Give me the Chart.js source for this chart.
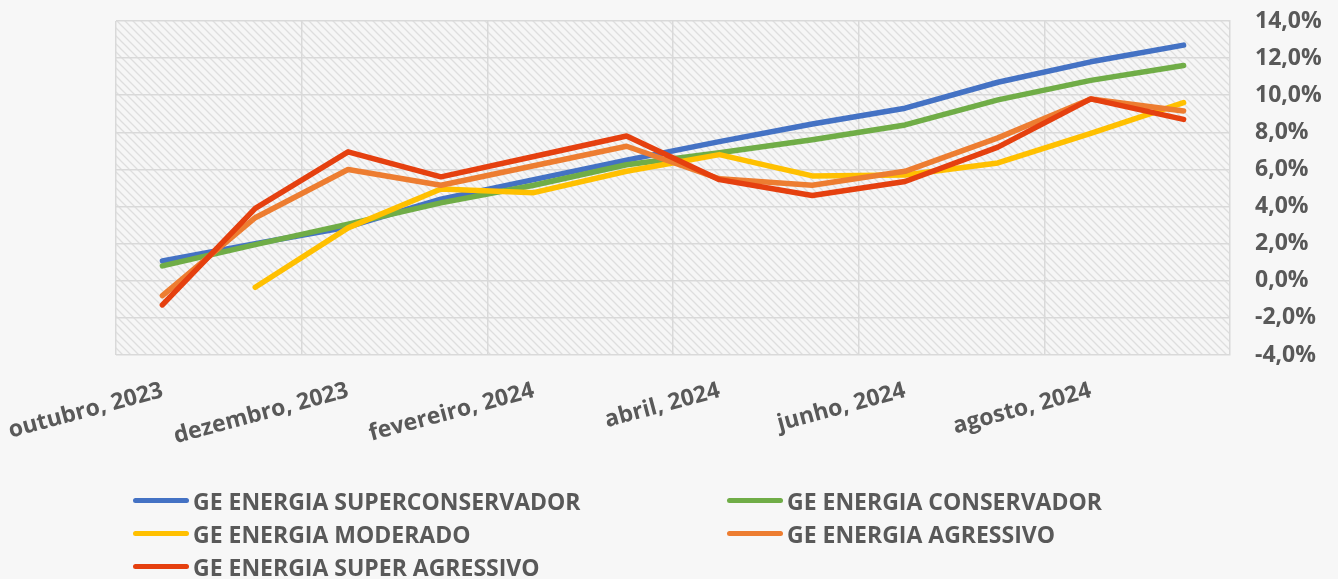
<!DOCTYPE html>
<html>
<head>
<meta charset="utf-8">
<script src="https://cdn.jsdelivr.net/npm/chart.js@4.4.1/dist/chart.umd.min.js"></script>
<style>
  html, body { margin: 0; padding: 0; background: #F7F7F7; }
  #wrap { position: relative; width: 1338px; height: 579px; overflow: hidden; }
  #c { position: absolute; left: 0; top: 0; }
  #legend { position: absolute; left: 133px; top: 484px; display: grid; grid-template-columns: 594px 560px; grid-auto-rows: 33px; }
  .li { display: flex; align-items: center; font-family: "Open Sans", sans-serif; font-weight: bold; font-size: 23px; color: #595959; white-space: nowrap; }
  .sw { width: 56px; height: 5px; border-radius: 3px; margin-right: 4px; }
</style>
</head>
<body>
<div id="wrap">
  <canvas id="c" width="1338" height="579"></canvas>
  <div id="legend"></div>
</div>
<script>
const categories = ['outubro, 2023','novembro, 2023','dezembro, 2023','janeiro, 2024','fevereiro, 2024','março, 2024','abril, 2024','maio, 2024','junho, 2024','julho, 2024','agosto, 2024','setembro, 2024'];
const superConservador = [1.07, 2.0, 2.9, 4.4, 5.45, 6.5, 7.5, 8.45, 9.3, 10.7, 11.8, 12.7];
const conservador      = [0.8, 1.95, 3.05, 4.2, 5.15, 6.25, 6.9, 7.6, 8.4, 9.75, 10.8, 11.6];
const moderado         = [null, -0.35, 2.85, 4.95, 4.75, 5.9, 6.8, 5.65, 5.7, 6.35, 7.95, 9.6];
const agressivo        = [-0.8, 3.4, 6.0, 5.15, 6.2, 7.25, 5.5, 5.15, 5.9, 7.7, 9.8, 9.15];
const superAgressivo   = [-1.3, 3.9, 6.95, 5.6, 6.7, 7.8, 5.45, 4.6, 5.35, 7.2, 9.8, 8.7];
const seriesNames = ['GE ENERGIA SUPERCONSERVADOR','GE ENERGIA CONSERVADOR','GE ENERGIA MODERADO','GE ENERGIA AGRESSIVO','GE ENERGIA SUPER AGRESSIVO'];
const seriesColors = ['#4472C4','#70AD47','#FFC000','#ED7D31','#E5400F'];
const yTicks = { min: -4, max: 14, step: 2 };

// hatch pattern for plot area
const pc = document.createElement('canvas');
pc.width = 8; pc.height = 8;
const px = pc.getContext('2d');
px.fillStyle = '#F6F6F6'; px.fillRect(0,0,8,8);
px.strokeStyle = '#DEDEDE'; px.lineWidth = 1.3;
px.beginPath();
px.moveTo(-2,-2); px.lineTo(10,10);
px.moveTo(-6,2); px.lineTo(2,10);
px.moveTo(6,-2); px.lineTo(10,2);
px.stroke();

const plotBg = {
  id: 'plotBg',
  beforeDraw(chart) {
    const {ctx, chartArea: a} = chart;
    ctx.save();
    ctx.fillStyle = ctx.createPattern(pc, 'repeat');
    ctx.fillRect(a.left, a.top, a.right - a.left, a.bottom - a.top);
    ctx.restore();
  }
};

function zeroPad(s) { s.paddingLeft = 0; s.paddingRight = 0; s.paddingTop = 0; s.paddingBottom = 0; }

const allSeries = [superConservador, conservador, moderado, agressivo, superAgressivo];
const datasets = allSeries.map((d, i) => ({
  label: seriesNames[i],
  data: d,
  borderColor: seriesColors[i],
  backgroundColor: seriesColors[i],
  borderWidth: 5.5,
  pointRadius: 0,
  tension: 0,
  borderCapStyle: 'round',
  borderJoinStyle: 'round',
  order: allSeries.length - i
}));

const tickFont = { family: '"Open Sans", sans-serif', weight: 'bold', size: 23 };

new Chart(document.getElementById('c'), {
  type: 'line',
  data: { labels: categories, datasets },
  options: {
    responsive: false,
    animation: false,
    layout: { padding: { left: 116, top: 21, right: 0, bottom: 0 } },
    plugins: { legend: { display: false }, tooltip: { enabled: false } },
    scales: {
      x: {
        offset: true,
        grid: {
          offset: true,
          drawTicks: false,
          lineWidth: 1.5,
          color: (c) => (c.index % 2 === 0 ? '#D9D9D9' : 'rgba(0,0,0,0)')
        },
        border: { display: false },
        ticks: {
          autoSkip: false,
          minRotation: 15,
          maxRotation: 15,
          padding: 22,
          color: '#595959',
          font: tickFont,
          callback: function(v, i) { return i % 2 === 0 ? this.getLabelForValue(v) : ''; }
        },
        afterFit: (s) => { s.height = 224; zeroPad(s); }
      },
      y: {
        position: 'right',
        min: yTicks.min,
        max: yTicks.max,
        grid: { drawTicks: false, lineWidth: 1.5, color: '#D9D9D9' },
        border: { display: true, color: '#D9D9D9', width: 1.5 },
        ticks: {
          stepSize: yTicks.step,
          padding: 25,
          crossAlign: 'near',
          color: '#595959',
          font: tickFont,
          callback: (v) => v.toFixed(1).replace('.', ',') + '%'
        },
        afterFit: (s) => { s.width = 108; zeroPad(s); }
      }
    }
  },
  plugins: [plotBg]
});

const lg = document.getElementById('legend');
seriesNames.forEach((n, i) => {
  const el = document.createElement('div');
  el.className = 'li';
  el.innerHTML = '<span class="sw" style="background:' + seriesColors[i] + '"></span><span></span>';
  el.lastChild.textContent = n;
  lg.appendChild(el);
});
</script>
</body>
</html>
